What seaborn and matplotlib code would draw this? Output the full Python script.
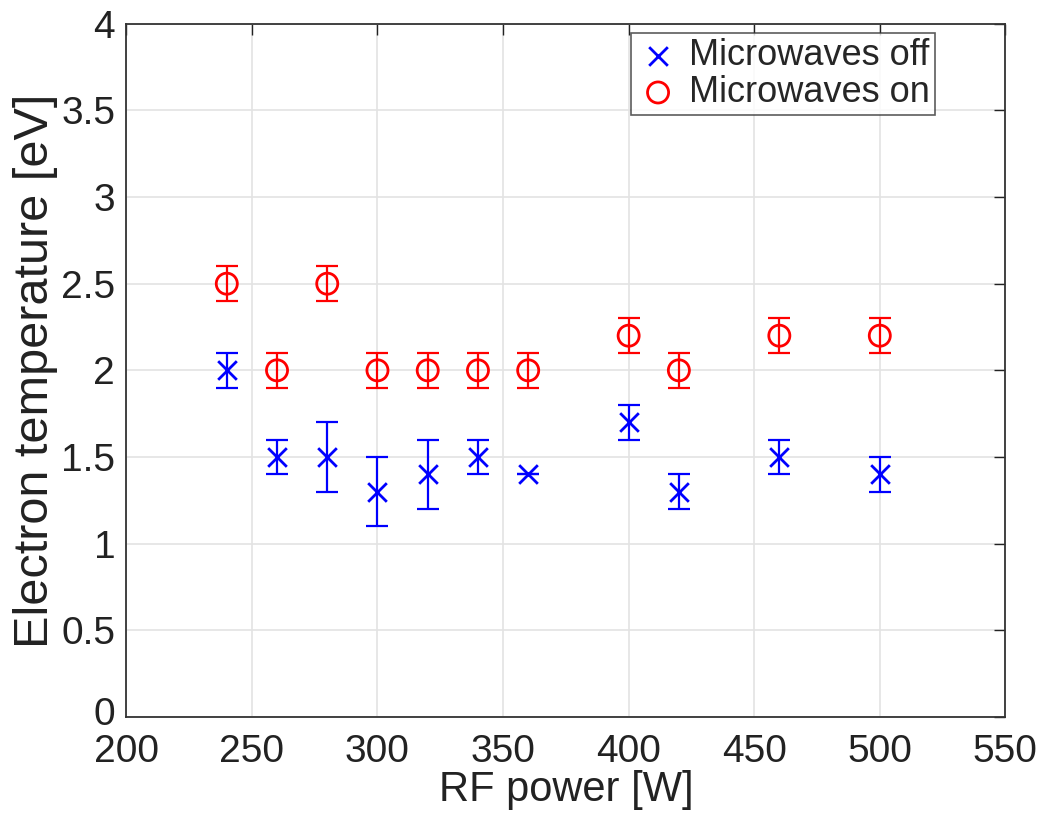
import numpy as np
import pandas as pd
import matplotlib
matplotlib.use("Agg")
import matplotlib.pyplot as plt
import matplotlib.transforms as mtransforms
import seaborn as sns

rf_power = [240, 260, 280, 300, 320, 340, 360, 400, 420, 460, 500]
te_off = [2.0, 1.5, 1.5, 1.3, 1.4, 1.5, 1.4, 1.7, 1.3, 1.5, 1.4]
err_off = [0.1, 0.1, 0.2, 0.2, 0.2, 0.1, 0.0, 0.1, 0.1, 0.1, 0.1]
te_on = [2.5, 2.0, 2.5, 2.0, 2.0, 2.0, 2.0, 2.2, 2.0, 2.2, 2.2]
err_on = [0.1, 0.1, 0.1, 0.1, 0.1, 0.1, 0.1, 0.1, 0.1, 0.1, 0.1]
x_ticks = [200, 250, 300, 350, 400, 450, 500, 550]
y_ticks = [0, 0.5, 1, 1.5, 2, 2.5, 3, 3.5, 4]
y_labels = ["0", "0.5", "1", "1.5", "2", "2.5", "3", "3.5", "4"]

sns.set_style("white")
plt.rcParams['font.family'] = ['Liberation Sans', 'DejaVu Sans']

df = pd.DataFrame({
    "power": rf_power * 2,
    "te": te_off + te_on,
    "err": err_off + err_on,
    "cond": ["Microwaves off"] * len(rf_power) + ["Microwaves on"] * len(rf_power),
})

fig = plt.figure(figsize=(10.44, 8.18), dpi=100)
ax = fig.add_axes([0.121, 0.1235, 0.842, 0.8475])

colors = {"Microwaves off": "#0000ff", "Microwaves on": "#ff0000"}
for cond, sub in df.groupby("cond"):
    ax.errorbar(sub["power"], sub["te"], yerr=sub["err"], fmt="none",
                ecolor=colors[cond], elinewidth=1.6, capsize=8, capthick=1.6, zorder=2)

sns.scatterplot(data=df[df.cond == "Microwaves off"], x="power", y="te", ax=ax,
                marker="x", s=180, color="#0000ff", linewidth=2.0,
                label="Microwaves off", zorder=3)
sns.scatterplot(data=df[df.cond == "Microwaves on"], x="power", y="te", ax=ax,
                marker="o", s=230, facecolors="none", edgecolor="#ff0000", linewidth=2.0,
                label="Microwaves on", zorder=3)

ax.set_xlim(200, 550)
ax.set_ylim(0, 4)
ax.set_xticks(x_ticks)
ax.set_yticks(y_ticks)
ax.set_yticklabels(y_labels)
ax.grid(True, color="#e3e3e3", linewidth=1.2)
ax.set_axisbelow(True)
ax.tick_params(direction="in", length=8, width=1.0, labelsize=28, colors="#222222",
               top=True, right=True)
ax.tick_params(axis="x", pad=12)
ax.tick_params(axis="y", pad=8)
for s in ax.spines.values():
    s.set_color("#333333")
    s.set_linewidth(1.3)
ax.set_xlabel("RF power [W]", fontsize=30, color="#222222", labelpad=0)
ax.set_ylabel("Electron temperature [eV]", fontsize=35, color="#222222", labelpad=2)

# nudge the "0" y tick label up slightly so it does not touch the "200" label
first = ax.get_yticklabels()[0]
first.set_transform(first.get_transform() +
                    mtransforms.ScaledTranslation(0, 4 / 72, fig.dpi_scale_trans))

leg = ax.legend(loc="upper right", fontsize=26, frameon=True, fancybox=False,
                edgecolor="#333333", borderpad=0.15, handletextpad=0.25,
                labelspacing=0.05, handlelength=1.2, borderaxespad=0.0,
                bbox_to_anchor=(0.92, 0.987))
leg.get_frame().set_linewidth(1.2)

fig.savefig("out.png", dpi=100)
